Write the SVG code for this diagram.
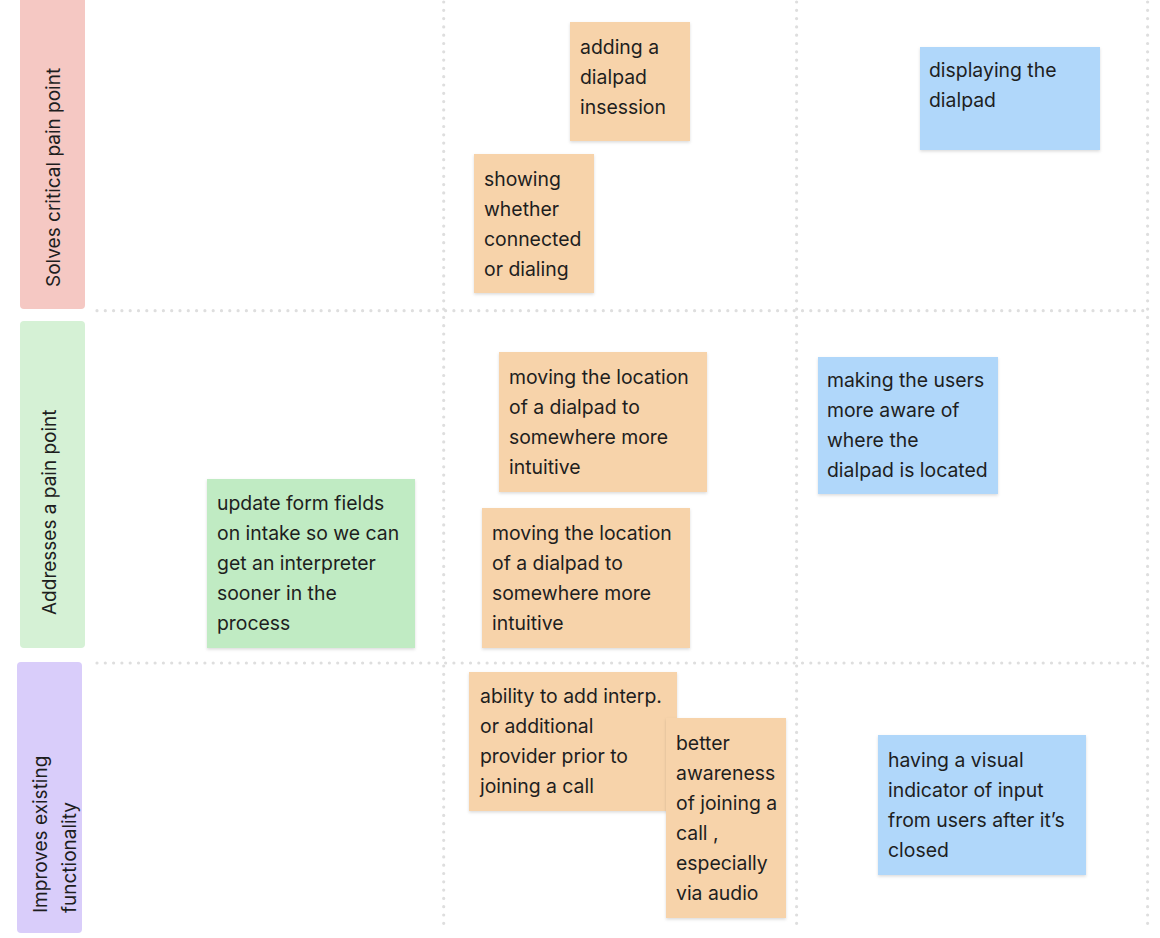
<svg xmlns="http://www.w3.org/2000/svg" width="1160" height="938" viewBox="0 0 1160 938">
<style>
.grid{stroke:#dedede;stroke-width:3.2;stroke-linecap:round;stroke-dasharray:0 8.3;fill:none}
.t{font-family:Inter,"Noto Sans","Liberation Sans",sans-serif;font-size:19.4px;fill:#1e1e1e}
.lbl{font-family:Inter,"Noto Sans","Liberation Sans",sans-serif;font-size:19px;fill:#1e1e1e}
.or{fill:#f7d3aa}
.bl{fill:#b0d7fa}
.gr{fill:#c0ebc3}
</style>
<defs>
<filter id="sh" x="-10%" y="-10%" width="120%" height="125%">
<feDropShadow dx="0" dy="1.5" stdDeviation="1.5" flood-color="#000" flood-opacity="0.14"/>
</filter>
</defs>
<rect width="1160" height="938" fill="#ffffff"/>
<g id="connectors">
<line class="grid" x1="97" y1="310.7" x2="1148" y2="310.7"/>
<line class="grid" x1="97" y1="663" x2="1148" y2="663"/>
<line class="grid" x1="443.7" y1="2" x2="443.7" y2="930"/>
<line class="grid" x1="796.6" y1="2" x2="796.6" y2="930"/>
<line class="grid" x1="1147.6" y1="2" x2="1147.6" y2="930"/>
</g>
<g id="row-critical">
<rect x="20" y="-6" width="65" height="315" rx="4" fill="#f5c8c3"/>
<text class="lbl" transform="translate(60,287) rotate(-90)">Solves critical pain point</text>
</g>
<g id="row-addresses">
<rect x="20" y="321" width="65" height="327" rx="4" fill="#d5f1d5"/>
<text class="lbl" transform="translate(56,615) rotate(-90)">Addresses a pain point</text>
</g>
<g id="row-improves">
<rect x="17" y="662" width="65" height="271" rx="4" fill="#d9cdfa"/>
<text class="lbl" transform="rotate(-90)"><tspan x="-913" y="47">Improves existing</tspan><tspan x="-913" y="76">functionality</tspan></text>
</g>
<g id="note-adding-dialpad">
<rect class="or" x="570" y="22" width="120" height="119" filter="url(#sh)"/>
<text class="t"><tspan x="580" y="54">adding a</tspan><tspan x="580" y="84">dialpad</tspan><tspan x="580" y="114">insession</tspan></text>
</g>
<g id="note-showing-connected">
<rect class="or" x="474" y="154" width="120" height="139" filter="url(#sh)"/>
<text class="t"><tspan x="484" y="186">showing</tspan><tspan x="484" y="216">whether</tspan><tspan x="484" y="246">connected</tspan><tspan x="484" y="276">or dialing</tspan></text>
</g>
<g id="note-displaying-dialpad">
<rect class="bl" x="920" y="47" width="180" height="103" filter="url(#sh)"/>
<text class="t"><tspan x="929" y="77">displaying the</tspan><tspan x="929" y="107">dialpad</tspan></text>
</g>
<g id="note-moving-1">
<rect class="or" x="499" y="352" width="208" height="140" filter="url(#sh)"/>
<text class="t"><tspan x="509" y="384">moving the location</tspan><tspan x="509" y="414">of a dialpad to</tspan><tspan x="509" y="444">somewhere more</tspan><tspan x="509" y="474">intuitive</tspan></text>
</g>
<g id="note-moving-2">
<rect class="or" x="482" y="508" width="208" height="140" filter="url(#sh)"/>
<text class="t"><tspan x="492" y="540">moving the location</tspan><tspan x="492" y="570">of a dialpad to</tspan><tspan x="492" y="600">somewhere more</tspan><tspan x="492" y="630">intuitive</tspan></text>
</g>
<g id="note-making-aware">
<rect class="bl" x="818" y="357" width="180" height="137" filter="url(#sh)"/>
<text class="t"><tspan x="827" y="387">making the users</tspan><tspan x="827" y="417">more aware of</tspan><tspan x="827" y="447">where the</tspan><tspan x="827" y="477">dialpad is located</tspan></text>
</g>
<g id="note-update-form">
<rect class="gr" x="207" y="479" width="208" height="169" filter="url(#sh)"/>
<text class="t"><tspan x="217" y="510">update form fields</tspan><tspan x="217" y="540">on intake so we can</tspan><tspan x="217" y="570">get an interpreter</tspan><tspan x="217" y="600">sooner in the</tspan><tspan x="217" y="630">process</tspan></text>
</g>
<g id="note-ability-add">
<rect class="or" x="469" y="672" width="208" height="139" filter="url(#sh)"/>
<text class="t"><tspan x="480" y="703">ability to add interp.</tspan><tspan x="480" y="733">or additional</tspan><tspan x="480" y="763">provider prior to</tspan><tspan x="480" y="793">joining a call</tspan></text>
</g>
<g id="note-better-awareness">
<rect class="or" x="666" y="718" width="120" height="200" filter="url(#sh)"/>
<text class="t"><tspan x="676" y="750">better</tspan><tspan x="676" y="780">awareness</tspan><tspan x="676" y="810">of joining a</tspan><tspan x="676" y="840">call ,</tspan><tspan x="676" y="870">especially</tspan><tspan x="676" y="900">via audio</tspan></text>
</g>
<g id="note-visual-indicator">
<rect class="bl" x="878" y="735" width="208" height="140" filter="url(#sh)"/>
<text class="t"><tspan x="888" y="767">having a visual</tspan><tspan x="888" y="797">indicator of input</tspan><tspan x="888" y="827">from users after it’s</tspan><tspan x="888" y="857">closed</tspan></text>
</g>
</svg>
